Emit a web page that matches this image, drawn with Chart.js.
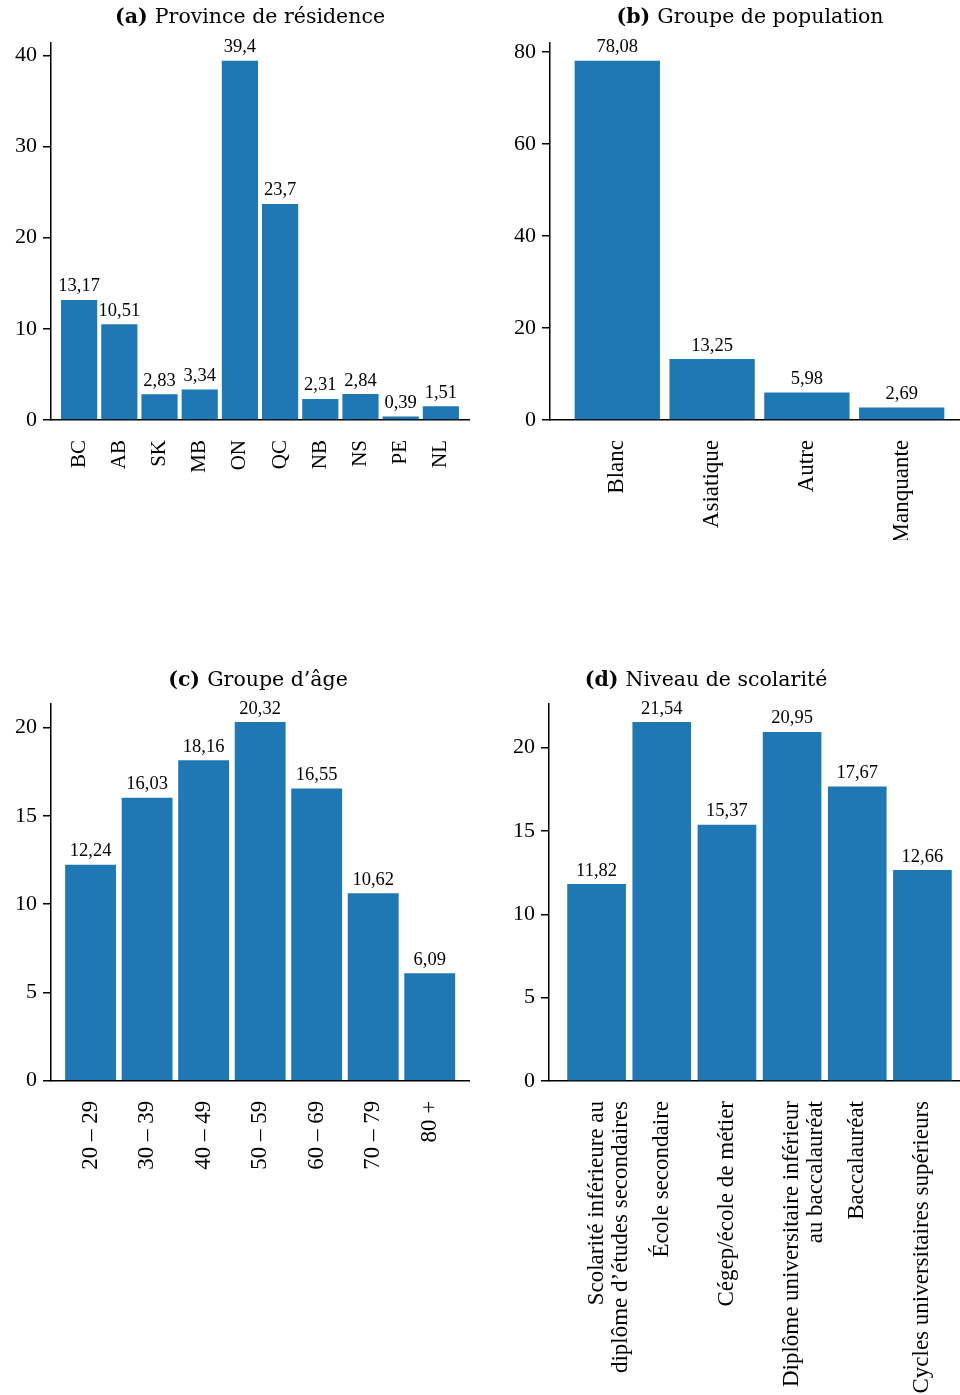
<!DOCTYPE html>
<html lang="fr">
<head>
<meta charset="utf-8">
<title>Caractéristiques des participants</title>
<script src="https://cdn.jsdelivr.net/npm/chart.js@4.4.1/dist/chart.umd.min.js"></script>
<style>
  html, body { margin: 0; padding: 0; background: #ffffff; overflow: hidden; }
  #page { position: relative; width: 960px; height: 1395px; overflow: hidden; }
  #page canvas { position: absolute; }
</style>
</head>
<body>
<div id="page">
  <canvas id="chartA"></canvas>
  <canvas id="chartB"></canvas>
  <canvas id="chartC"></canvas>
  <canvas id="chartD"></canvas>
</div>
<script>
// (a) Province de résidence (%)
const provinces = ['BC', 'AB', 'SK', 'MB', 'ON', 'QC', 'NB', 'NS', 'PE', 'NL'];
const provinceValues = [13.17, 10.51, 2.83, 3.34, 39.4, 23.7, 2.31, 2.84, 0.39, 1.51];
const provinceTicks = [0, 10, 20, 30, 40];

// (b) Groupe de population (%)
const populationGroups = ['Blanc', 'Asiatique', 'Autre', 'Manquante'];
const populationValues = [78.08, 13.25, 5.98, 2.69];
const populationTicks = [0, 20, 40, 60, 80];

// (c) Groupe d'âge (%)
const ageGroups = ['20 – 29', '30 – 39', '40 – 49', '50 – 59', '60 – 69', '70 – 79', '80 +'];
const ageValues = [12.24, 16.03, 18.16, 20.32, 16.55, 10.62, 6.09];
const ageTicks = [0, 5, 10, 15, 20];

// (d) Niveau de scolarité (%)
const educationLevels = [
  ['Scolarité inférieure au', 'diplôme d’études secondaires'],
  'École secondaire',
  'Cégep/école de métier',
  ['Diplôme universitaire inférieur', 'au baccalauréat'],
  'Baccalauréat',
  'Cycles universitaires supérieurs'
];
const educationValues = [11.82, 21.54, 15.37, 20.95, 17.67, 12.66];
const educationTicks = [0, 5, 10, 15, 20];

const BAR_BLUE = '#1f77b4';
const INK = '#000000';
const SERIF = '"Liberation Serif", "Times New Roman", serif';
const TITLE_FONT = '"DejaVu Serif", serif';
const TITLE_SIZE = 20.5;

// Writes each bar's value above it, with a French decimal comma.
const valueLabels = {
  id: 'valueLabels',
  afterDatasetsDraw(chart) {
    const ctx = chart.ctx;
    const meta = chart.getDatasetMeta(0);
    const data = chart.data.datasets[0].data;
    ctx.save();
    ctx.font = '18.5px ' + SERIF;
    ctx.fillStyle = INK;
    ctx.textAlign = 'center';
    ctx.textBaseline = 'alphabetic';
    meta.data.forEach((bar, i) => {
      const txt = String(data[i].y).replace('.', ',');
      ctx.fillText(txt, bar.x, bar.y - 8.5);
    });
    ctx.restore();
  }
};

// Panel heading: bold tag such as "(a)" followed by the regular title,
// centred on the canvas, in the band the built-in title block reserves.
const panelHeading = {
  id: 'panelHeading',
  afterDraw(chart, args, opts) {
    const block = chart.titleBlock;
    if (!block) return;
    const ctx = chart.ctx;
    const boldFont = 'bold ' + TITLE_SIZE + 'px ' + TITLE_FONT;
    const regFont = TITLE_SIZE + 'px ' + TITLE_FONT;
    ctx.save();
    ctx.fillStyle = INK;
    ctx.textBaseline = 'middle';
    ctx.textAlign = 'left';
    ctx.font = boldFont;
    const tagW = ctx.measureText(opts.tag + ' ').width;
    ctx.font = regFont;
    const restW = ctx.measureText(opts.text).width;
    const total = tagW + restW;
    const cx = chart.width / 2;
    const y = block.top + 5 + TITLE_SIZE * 1.2 / 2;
    const x = cx - total / 2;
    ctx.font = boldFont;
    ctx.fillText(opts.tag + ' ', x, y);
    ctx.font = regFont;
    ctx.fillText(opts.text, x + tagW, y);
    ctx.restore();
  }
};

function panel(id, box, tag, title, categories, values, yTicks, opts) {
  const canvas = document.getElementById(id);
  canvas.width = box.w;
  canvas.height = box.h;
  canvas.style.left = box.left + 'px';
  canvas.style.top = box.top + 'px';
  canvas.style.width = box.w + 'px';
  canvas.style.height = box.h + 'px';

  const yMax = Math.max(...values) * 1.05;
  const step = yTicks[1] - yTicks[0];

  return new Chart(canvas, {
    type: 'bar',
    data: {
      datasets: [{
        data: values.map((v, i) => ({ x: i, y: v })),
        backgroundColor: BAR_BLUE,
        borderWidth: 0,
        barPercentage: 0.9,
        categoryPercentage: 1.0
      }]
    },
    options: {
      responsive: false,
      animation: false,
      devicePixelRatio: 1,
      layout: { padding: { left: 0, right: box.padRight, top: 0, bottom: 0 } },
      plugins: {
        legend: { display: false },
        tooltip: { enabled: false },
        // the built-in title only reserves the heading's space; panelHeading draws it
        title: {
          display: true,
          text: tag + ' ' + title,
          color: 'rgba(0,0,0,0)',
          font: { family: TITLE_FONT, size: TITLE_SIZE, lineHeight: 1.2 },
          padding: { top: 5, bottom: box.titleGap }
        },
        panelHeading: { tag: tag, text: title }
      },
      scales: {
        x: {
          type: 'linear',
          offset: false,
          min: -opts.xPad,
          max: categories.length - 1 + opts.xPad,
          grid: { display: false },
          border: { display: true, color: INK, width: 1.5 },
          ticks: {
            stepSize: 1,
            includeBounds: false,
            autoSkip: false,
            maxRotation: 90,
            minRotation: 90,
            padding: 12,
            color: INK,
            font: { family: SERIF, size: opts.xFont, lineHeight: 1.05 },
            callback: (v) => (Number.isInteger(v) && categories[v] !== undefined) ? categories[v] : ''
          },
          afterFit: (s) => { s.height = box.xAxisH; }
        },
        y: {
          type: 'linear',
          min: 0,
          max: yMax,
          grid: {
            display: true,
            drawOnChartArea: false,
            drawTicks: true,
            tickLength: 8,
            color: INK,
            lineWidth: 1.5
          },
          border: { display: true, color: INK, width: 1.5 },
          ticks: {
            stepSize: step,
            includeBounds: false,
            padding: 6,
            color: INK,
            font: { family: SERIF, size: 22 },
            callback: (v) => yTicks.includes(v) ? String(v) : ''
          },
          afterFit: (s) => { s.width = box.yAxisW; }
        }
      }
    },
    plugins: [valueLabels, panelHeading]
  });
}

const boxes = {
  a: { left: 0,   top: 0,   w: 500, h: 540, padRight: 31,   yAxisW: 51,  xAxisH: 120,   titleGap: 13.2 },
  b: { left: 500, top: 0,   w: 500, h: 540, padRight: 31,   yAxisW: 50,  xAxisH: 120,   titleGap: 13.2 },
  c: { left: 0,   top: 663, w: 516, h: 732, padRight: 46.7, yAxisW: 51,  xAxisH: 314.3, titleGap: 11.5 },
  d: { left: 442, top: 663, w: 528, h: 732, padRight: 0,    yAxisW: 107, xAxisH: 314,   titleGap: 11.5 }
};

panel('chartA', boxes.a, '(a)', 'Province de résidence', provinces, provinceValues, provinceTicks, { xPad: 0.7, xFont: 21 });
panel('chartB', boxes.b, '(b)', 'Groupe de population', populationGroups, populationValues, populationTicks, { xPad: 0.71, xFont: 23 });
panel('chartC', boxes.c, '(c)', 'Groupe d’âge', ageGroups, ageValues, ageTicks, { xPad: 0.7, xFont: 23 });
panel('chartD', boxes.d, '(d)', 'Niveau de scolarité', educationLevels, educationValues, educationTicks, { xPad: 0.73, xFont: 23 });
</script>
</body>
</html>
